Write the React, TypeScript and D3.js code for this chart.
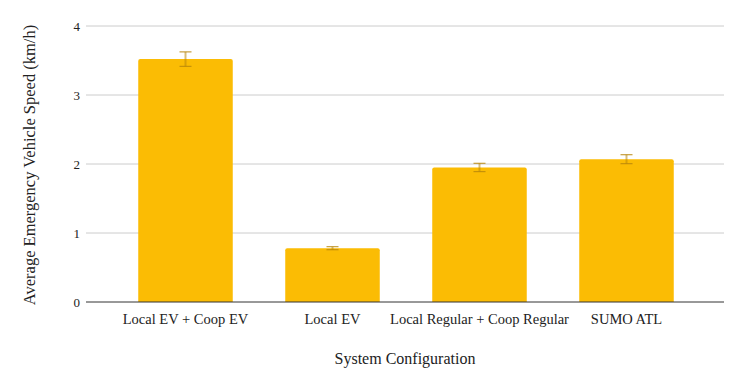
import React, { useEffect, useRef } from "react";
import * as d3 from "d3";

const categories = [
  "Local EV + Coop EV",
  "Local EV",
  "Local Regular + Coop Regular",
  "SUMO ATL",
];
const speeds = [3.52, 0.78, 1.95, 2.07];
const errors = [0.105, 0.022, 0.06, 0.065];
const yTicks = [0, 1, 2, 3, 4];

const W = 744;
const H = 388;

export default function App() {
  const ref = useRef<SVGSVGElement>(null);

  useEffect(() => {
    const svg = d3.select(ref.current);
    svg.selectAll("*").remove();

    const font = "Liberation Serif, Tinos, Times New Roman, DejaVu Serif";
    const left = 86;
    const right = 724;
    const top = 26;
    const bottom = 302;

    const x = d3
      .scaleBand<string>()
      .domain(categories)
      .range([112, 700])
      .paddingInner(0.357)
      .paddingOuter(0.1785);

    const y = d3.scaleLinear().domain([0, 4]).range([bottom, top]);

    // gridlines
    svg
      .append("g")
      .selectAll("line")
      .data(yTicks.filter((t) => t > 0))
      .join("line")
      .attr("x1", left)
      .attr("x2", right)
      .attr("y1", (d) => y(d))
      .attr("y2", (d) => y(d))
      .attr("stroke", "#cccccc")
      .attr("stroke-width", 1);

    // y tick labels
    svg
      .append("g")
      .selectAll("text")
      .data(yTicks)
      .join("text")
      .attr("x", 80)
      .attr("y", (d) => y(d))
      .attr("dy", "0.35em")
      .attr("text-anchor", "end")
      .style("font-family", font)
      .style("font-size", "13px")
      .attr("fill", "#222")
      .text((d) => d);

    // bars
    const data = categories.map((c, i) => ({ c, v: speeds[i], e: errors[i] }));
    svg
      .append("g")
      .selectAll("path")
      .data(data)
      .join("path")
      .attr("d", (d) => {
        const x0 = x(d.c)!;
        const x1 = x0 + x.bandwidth();
        const yt = y(d.v);
        const r = 2;
        return `M${x0},${bottom}V${yt + r}Q${x0},${yt} ${x0 + r},${yt}H${x1 - r}Q${x1},${yt} ${x1},${yt + r}V${bottom}Z`;
      })
      .attr("fill", "#fbbc04");

    // baseline
    svg
      .append("line")
      .attr("x1", left)
      .attr("x2", right)
      .attr("y1", bottom)
      .attr("y2", bottom)
      .attr("stroke", "#333")
      .attr("stroke-width", 1);

    // error bars
    const eb = svg
      .append("g")
      .selectAll("g")
      .data(data)
      .join("g")
      .attr("stroke", "#b8860b")
      .attr("stroke-opacity", 0.8);
    const cx = (d: any) => x(d.c)! + x.bandwidth() / 2;
    eb.append("line")
      .attr("x1", cx)
      .attr("x2", cx)
      .attr("y1", (d) => y(d.v + d.e))
      .attr("y2", (d) => y(d.v - d.e))
      .attr("stroke-width", 2)
      .attr("stroke-opacity", 0.55);
    eb.append("line")
      .attr("x1", (d) => cx(d) - 6)
      .attr("x2", (d) => cx(d) + 6)
      .attr("y1", (d) => y(d.v + d.e))
      .attr("y2", (d) => y(d.v + d.e))
      .attr("stroke-width", 1.2);
    eb.append("line")
      .attr("x1", (d) => cx(d) - 6)
      .attr("x2", (d) => cx(d) + 6)
      .attr("y1", (d) => y(d.v - d.e))
      .attr("y2", (d) => y(d.v - d.e))
      .attr("stroke-width", 1.2);

    // x tick labels
    svg
      .append("g")
      .selectAll("text")
      .data(categories)
      .join("text")
      .attr("x", (d) => x(d)! + x.bandwidth() / 2)
      .attr("y", 324)
      .attr("text-anchor", "middle")
      .style("font-family", font)
      .style("font-size", "14.5px")
      .attr("fill", "#222")
      .text((d) => d);

    // axis titles
    svg
      .append("text")
      .attr("x", 405)
      .attr("y", 364)
      .attr("text-anchor", "middle")
      .style("font-family", font)
      .style("font-size", "16px")
      .attr("fill", "#222")
      .text("System Configuration");

    svg
      .append("text")
      .attr("transform", `translate(35,165) rotate(-90)`)
      .attr("text-anchor", "middle")
      .style("font-family", font)
      .style("font-size", "16.5px")
      .attr("fill", "#222")
      .text("Average Emergency Vehicle Speed (km/h)");
  }, []);

  return (
    <svg
      ref={ref}
      width={W}
      height={H}
      style={{ position: "absolute", left: 0, top: 0, background: "#fff" }}
    />
  );
}
